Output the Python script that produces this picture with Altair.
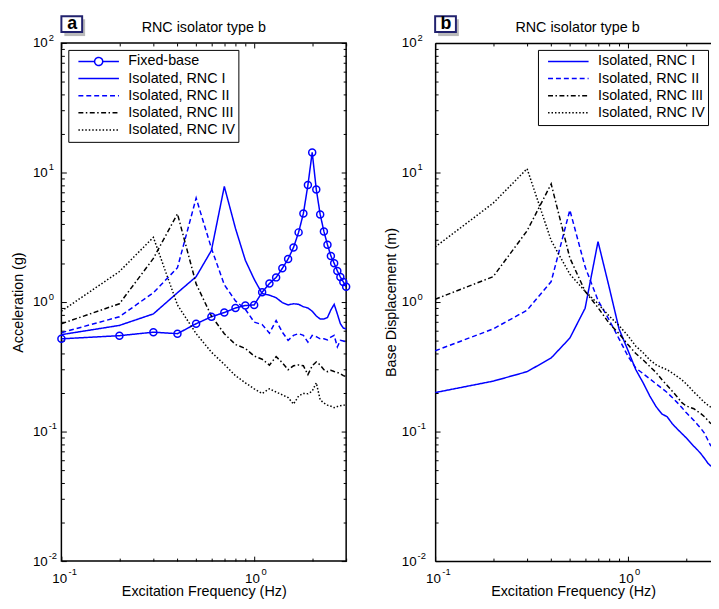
import altair as alt
import pandas as pd

FONT = "Liberation Sans"
BLUE = "#0000ff"

# ---------------- data ----------------
freq_a = [0.1, 0.2, 0.3, 0.4, 0.5, 0.6, 0.7, 0.8, 0.9, 1.0,
          1.1, 1.2, 1.3, 1.4, 1.5, 1.6, 1.7, 1.8, 1.9, 2.0,
          2.1, 2.2, 2.3, 2.4, 2.5, 2.6, 2.7, 2.8, 2.9, 3.0]
fixed_base_a = [0.52, 0.55, 0.585, 0.57, 0.68, 0.77, 0.83, 0.90, 0.94, 0.95,
                1.19, 1.39, 1.55, 1.82, 2.15, 2.64, 3.45, 4.83, 8.0, 14.3,
                7.4, 4.75, 3.51, 2.77, 2.27, 1.99, 1.74, 1.56, 1.43, 1.31]
rnc1_a = [0.56, 0.66, 0.81, 1.18, 1.57, 2.5, 7.8, 3.7, 2.1, 1.5,
          1.16, 1.13, 1.08, 0.99, 0.95, 0.97, 0.96, 0.92, 0.90, 0.85,
          0.78, 0.74, 0.74, 0.76, 0.87, 0.96, 0.81, 0.68, 0.63, 0.62]
rnc2_a = [0.58, 0.77, 1.18, 1.84, 6.35, 2.6, 1.36, 1.02, 0.88, 0.70,
          0.67, 0.575, 0.72, 0.585, 0.506, 0.553, 0.57, 0.553, 0.49, 0.553,
          0.54, 0.52, 0.52, 0.51, 0.537, 0.553, 0.45, 0.506, 0.50, 0.49]
rnc3_a = [0.68, 0.97, 2.17, 4.8, 1.38, 0.78, 0.57, 0.47, 0.438, 0.383,
          0.362, 0.326, 0.379, 0.34, 0.30, 0.322, 0.327, 0.322, 0.275, 0.322,
          0.345, 0.327, 0.30, 0.29, 0.297, 0.291, 0.286, 0.28, 0.27, 0.266]
rnc4_a = [0.85, 1.72, 3.16, 0.95, 0.57, 0.41, 0.33, 0.27, 0.238, 0.214,
          0.197, 0.214, 0.202, 0.192, 0.183, 0.163, 0.188, 0.197, 0.196, 0.205,
          0.238, 0.176, 0.166, 0.16, 0.157, 0.153, 0.156, 0.158, 0.16, 0.16]

freq_b = [0.1, 0.2, 0.3, 0.4, 0.5, 0.6, 0.7, 0.8, 0.9, 1.0,
          1.1, 1.2, 1.3, 1.4, 1.5, 1.6, 1.7, 1.8, 1.9, 2.0,
          2.1, 2.2, 2.3, 2.4, 2.5, 2.6, 2.7]
rnc1_b = [0.20, 0.245, 0.29, 0.37, 0.527, 0.896, 2.93, 1.3, 0.62, 0.425,
          0.30, 0.238, 0.188, 0.156, 0.137, 0.13, 0.115, 0.105, 0.097, 0.09,
          0.083, 0.077, 0.072, 0.067, 0.062, 0.057, 0.054]
rnc2_b = [0.42, 0.62, 0.865, 1.44, 5.13, 1.87, 1.03, 0.727, 0.52, 0.383,
          0.309, 0.28, 0.255, 0.234, 0.216, 0.20, 0.183, 0.168, 0.154, 0.141,
          0.131, 0.122, 0.113, 0.105, 0.097, 0.086, 0.077]
rnc3_b = [1.05, 1.57, 3.55, 8.16, 2.19, 1.21, 0.905, 0.685, 0.57, 0.47,
          0.40, 0.357, 0.318, 0.286, 0.252, 0.227, 0.205, 0.186, 0.168, 0.158,
          0.154, 0.15, 0.143, 0.137, 0.13, 0.122, 0.115]
rnc4_b = [2.66, 5.8, 10.7, 2.98, 1.64, 1.21, 0.97, 0.78, 0.658, 0.55,
          0.456, 0.406, 0.357, 0.328, 0.312, 0.30, 0.283, 0.267, 0.252, 0.235,
          0.218, 0.202, 0.19, 0.178, 0.168, 0.16, 0.154]

names_a = ["Fixed-base", "Isolated, RNC I", "Isolated, RNC II",
           "Isolated, RNC III", "Isolated, RNC IV"]
names_b = names_a[1:]
colors_a = [BLUE, BLUE, BLUE, "black", "black"]
dashes_a = [[1, 0], [1, 0], [5, 3], [5, 2.5, 1.5, 2.5], [1.5, 2]]

panel_title = "RNC isolator type b"
x_title = "Excitation Frequency (Hz)"

x_major = [0.1, 1]
x_minor = [0.2, 0.3, 0.4, 0.5, 0.6, 0.7, 0.8, 0.9, 2, 3]
y_major = [0.01, 0.1, 1, 10, 100]
y_minor = [0.02, 0.03, 0.04, 0.05, 0.06, 0.07, 0.08, 0.09,
           0.2, 0.3, 0.4, 0.5, 0.6, 0.7, 0.8, 0.9,
           2, 3, 4, 5, 6, 7, 8, 9,
           20, 30, 40, 50, 60, 70, 80, 90]


def long_df(freq, series):
    rows = []
    for name, vals in series:
        for f, v in zip(freq, vals):
            rows.append({"freq": f, "value": v, "series": name})
    return pd.DataFrame(rows)


df_a = long_df(freq_a, [(names_a[0], fixed_base_a), (names_a[1], rnc1_a),
                        (names_a[2], rnc2_a), (names_a[3], rnc3_a),
                        (names_a[4], rnc4_a)])
df_b = long_df(freq_b, [(names_b[0], rnc1_b), (names_b[1], rnc2_b),
                        (names_b[2], rnc3_b), (names_b[3], rnc4_b)])

# one invisible anchor point that carries the extra tick / exponent axes
anchor = pd.DataFrame({"freq": [1.0], "value": [1.0]})

EXP_X = "datum.value < 0.5 ? '-1' : '0'"
EXP_Y = ("datum.value < 0.05 ? '-2' : datum.value < 0.5 ? '-1' : "
         "datum.value < 5 ? '0' : datum.value < 50 ? '1' : '2'")
FIXED_SYMBOL = ("M-1,0L-0.2,0M0.2,0L1,0M0.2,0A0.2,0.2,0,1,1,-0.2,0"
                "A0.2,0.2,0,1,1,0.2,0Z")

PLOT_H = 524


def panel(df, names, colors, dashes, ytitle, letter, legend_x,
          ylab_pad, ytitle_x, first, width, xmax):
    xs = alt.Scale(type="log", domain=[0.1, xmax], nice=False)
    ys = alt.Scale(type="log", domain=[0.01, 100], nice=False)
    base = alt.Chart(df)
    ghost = alt.Chart(anchor).mark_point(opacity=0, size=1, strokeWidth=0)

    if first:
        sym = alt.ExprRef(expr="datum.value == 'Fixed-base' ? '" + FIXED_SYMBOL + "' : 'stroke'")
    else:
        sym = "stroke"
    leg = alt.Legend(title=None, orient="none", legendX=legend_x, legendY=7,
                     direction="vertical", padding=3.2, fillColor="white",
                     strokeColor="black", symbolSize=1681, symbolStrokeWidth=1.5,
                     symbolOffset=6, labelOffset=8.5, rowPadding=0.3,
                     clipHeight=17, symbolType=sym, symbolFillColor="white",
                     labelFont=FONT, labelFontSize=14.5, labelColor="black",
                     labelLimit=0)

    common = dict(grid=False, labelFlush=False, labelOverlap=False)
    dom = dict(domain=not first, domainColor="black", domainWidth=1.5)

    lines = base.mark_line(strokeWidth=1.5, clip=True).encode(
        x=alt.X("freq:Q", scale=xs, axis=alt.Axis(
            values=x_major, labelExpr="'10'", ticks=False, tickSize=0,
            labelPadding=10.5, labelFontSize=13.5, labelOffset=-2.25, labelAlign="center",
            title=x_title, titleY=35, titleBaseline="alphabetic",
            titleFontSize=14.5, titleFontWeight="normal", **dom, **common)),
        y=alt.Y("value:Q", scale=ys, axis=alt.Axis(
            values=y_major, labelExpr="'10'", ticks=False, tickSize=0,
            labelPadding=ylab_pad, labelFontSize=13.5, labelAlign="right",
            title=ytitle, titleX=ytitle_x, titleBaseline="alphabetic",
            titleFontSize=14.5, titleFontWeight="normal", **dom, **common)),
        color=alt.Color("series:N", scale=alt.Scale(domain=names, range=colors), legend=leg),
        strokeDash=alt.StrokeDash("series:N", scale=alt.Scale(domain=names, range=dashes), legend=leg),
    )

    exps = ghost.encode(
        x=alt.X("freq:Q", scale=xs, axis=alt.Axis(
            orient="top" if not first else "bottom", values=x_major, labels=first,
            labelExpr=EXP_X, ticks=False, tickSize=0, domain=not first,
            domainColor="black", domainWidth=1.5, labelPadding=6, labelFontSize=9.5,
            labelOffset=6.8, labelAlign="left", title=None, **common)),
        y=alt.Y("value:Q", scale=ys, axis=alt.Axis(
            orient="left", values=y_major, labelExpr=EXP_Y, ticks=False, tickSize=0,
            domain=False, labelPadding=ylab_pad - 1, labelFontSize=9.5, labelOffset=-6,
            labelAlign="left", title=None, **common)),
    )
    layers = [lines]
    if not first:
        # exponent labels of the x axis for the second panel
        layers.append(ghost.encode(
            x=alt.X("freq:Q", scale=xs, axis=alt.Axis(
                orient="bottom", values=x_major, labelExpr=EXP_X, ticks=False, tickSize=0,
                domain=False, labelPadding=6, labelFontSize=9.5, labelOffset=6.8,
                labelAlign="left", title=None, **common)),
            y=alt.Y("value:Q", scale=ys, axis=None)))

    def ticks(xo, yo, xv, yv, size):
        yax = alt.Axis(
            orient=yo, values=yv, labels=False, domain=False, ticks=True,
            tickSize=size, offset=-size, tickColor="black", tickWidth=1,
            title=None, **common) if yo else None
        return ghost.encode(
            x=alt.X("freq:Q", scale=xs, axis=alt.Axis(
                orient=xo, values=[v for v in xv if v <= xmax], labels=False,
                domain=False, ticks=True, tickSize=size, offset=-size,
                tickColor="black", tickWidth=1, title=None, **common)),
            y=alt.Y("value:Q", scale=ys, axis=yax),
        )

    if first:
        circles = base.transform_filter(alt.datum.series == "Fixed-base").mark_point(
            shape="circle", size=50, filled=False, strokeWidth=1.5, color=BLUE, opacity=1
        ).encode(
            x=alt.X("freq:Q", scale=xs, axis=None),
            y=alt.Y("value:Q", scale=ys, axis=None),
        )
        layers.append(circles)
    right = "right" if first else None
    layers += [exps,
               ticks("bottom", "left", x_major, y_major, 5),
               ticks("top", right, x_major, y_major, 5),
               ticks("bottom", "left", x_minor, y_minor, 3),
               ticks("top", right, x_minor, y_minor, 3)]

    one = pd.DataFrame({"k": [0]})
    shadow = alt.Chart(one).mark_rect(fill="#8c8c8c", opacity=0.6).encode(
        x=alt.value(3), x2=alt.value(24), y=alt.value(-24), y2=alt.value(-7))
    box = alt.Chart(one).mark_rect(fill="white", stroke="#22226e", strokeWidth=2).encode(
        x=alt.value(0), x2=alt.value(21), y=alt.value(-27), y2=alt.value(-11))
    txt = alt.Chart(one).mark_text(text=letter, font=FONT, fontSize=18, fontWeight="bold",
                                   color="black", align="center", baseline="middle").encode(
        x=alt.value(11), y=alt.value(-19.3))
    ttl = alt.Chart(one).mark_text(text=panel_title, font=FONT, fontSize=14.5,
                                   color="black", align="center",
                                   baseline="alphabetic").encode(
        x=alt.value(144), y=alt.value(-10.7))
    layers += [shadow, box, txt, ttl]

    view = alt.ViewBackground(stroke="black", strokeWidth=1.5) if first else \
        alt.ViewBackground(stroke="transparent", strokeWidth=0)

    return alt.layer(*layers).resolve_axis(x="independent", y="independent").properties(
        width=width, height=PLOT_H, view=view,
    )


pa = panel(df_a, names_a, colors_a, dashes_a, "Acceleration (g)", "a", 7,
           14.3, -39, True, 288, 3)
pb = panel(df_b, names_b, colors_a[1:], dashes_a[1:], "Base Displacement (m)", "b",
           104, 19.3, -40.5, False, 279, 2.7)

chart = alt.hconcat(pa, pb, spacing=90, bounds="flush").resolve_scale(
    color="independent", strokeDash="independent"
).resolve_legend(
    color="independent", strokeDash="independent"
).properties(
    padding={"left": 2, "top": 2, "right": 0, "bottom": 0},
    background="white",
).configure_axis(
    labelFont=FONT, titleFont=FONT, labelColor="black", titleColor="black",
    titleFontWeight="normal"
)

chart.save("out.html", embed_options={"renderer": "svg", "actions": False})
